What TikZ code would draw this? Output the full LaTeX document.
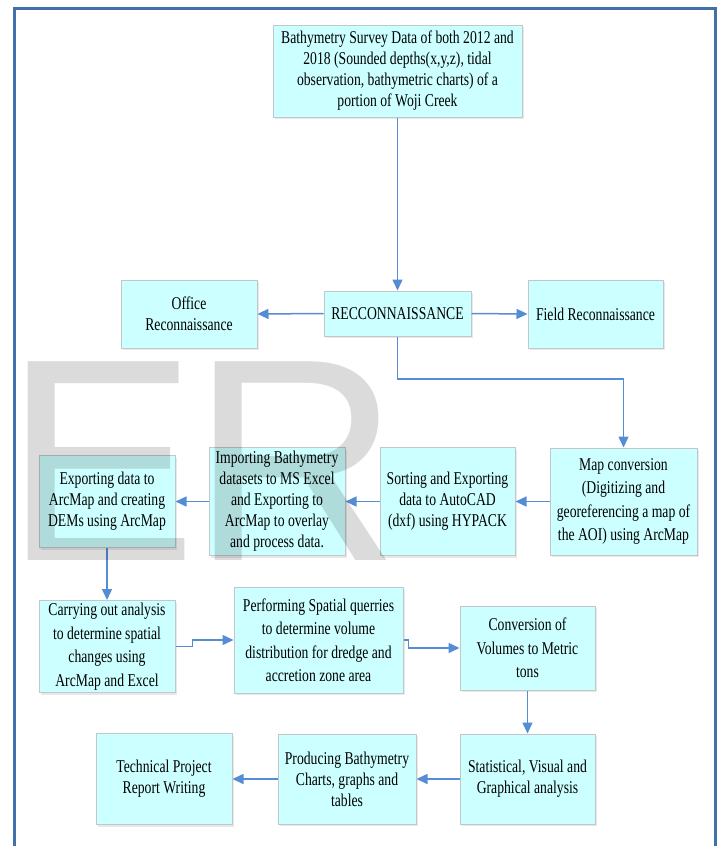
\documentclass[tikz,border=0pt]{standalone}
\usepackage{fontspec}
\setmainfont{Liberation Serif}[FakeStretch=0.76]
\newfontfamily\wmfont{Liberation Sans}
\usetikzlibrary{positioning,shadows,arrows.meta}
\definecolor{boxfill}{RGB}{204,255,255}
\definecolor{boxline}{RGB}{192,200,200}
\definecolor{linkblue}{RGB}{84,141,212}
\definecolor{frameblue}{RGB}{65,113,167}
\tikzset{
  box/.style={rectangle,draw=boxline,fill=boxfill,line width=1pt,align=center,inner sep=0pt,
    drop shadow={shadow xshift=1.5pt,shadow yshift=-2pt,opacity=0.15,fill=black!60},
    font=\fontsize{18}{21}\selectfont},
  roomy/.style={font=\fontsize{18}{23.5}\selectfont},
  link/.style={draw=linkblue,line width=1.5pt}
}

\begin{document}
\begin{tikzpicture}[x=1pt,y=-1pt,->,>={Triangle[length=11pt,width=10pt]}]
\useasboundingbox (0,0) rectangle (718,846);
\clip (0,0) rectangle (718,846);
\draw[-,frameblue,line width=2.7pt] (14.8,870) -- (14.8,8.7) -- (715.6,8.7) -- (715.6,870);

\node[box,minimum width=249pt,minimum height=92pt](q1) at (397.5,71)
  {Bathymetry Survey Data of both 2012 and\\2018 (Sounded depths(x,y,z), tidal\\observation, bathymetric charts) of a\\portion of Woji Creek};
\node[box,minimum width=147pt,minimum height=45pt](q2) at (397.5,313.5) {RECCONNAISSANCE};
\node[box,minimum width=136pt,minimum height=68pt](q3) at (189,314) {Office\\Reconnaissance};
\node[box,minimum width=135pt,minimum height=68pt](q4) at (595.5,314) {Field Reconnaissance};

\node[box,roomy,minimum width=147pt,minimum height=107pt](q5) at (623.5,501.5)
  {Map conversion\\(Digitizing and\\georeferencing a map of\\the AOI) using ArcMap};
\node[box,minimum width=135pt,minimum height=108pt](q6)[left=34pt of q5]
  {Sorting and Exporting\\data to AutoCAD\\(dxf) using HYPACK};
\node[box,minimum width=136pt,minimum height=108pt](q7)[left=34pt of q6]
  {Importing Bathymetry\\datasets to MS Excel\\and Exporting to\\ArcMap to overlay\\and process data.};
\node[box,minimum width=136pt,minimum height=92pt](q8)[left=33pt of q7]
  {Exporting data to\\ArcMap and creating\\DEMs using ArcMap};

\node[box,roomy,minimum width=136pt,minimum height=92pt](q9)[below=52pt of q8]
  {Carrying out analysis\\to determine spatial\\changes using\\ArcMap and Excel};
\node[box,roomy,minimum width=169pt,minimum height=106pt](q10) at (318.5,640)
  {Performing Spatial querries\\to determine volume\\distribution for dredge and\\accretion zone area};
\node[box,roomy,minimum width=135pt,minimum height=84pt](q11) at (527.5,648)
  {Conversion of\\Volumes to Metric\\tons};

\node[box,minimum width=135pt,minimum height=90pt](q12)[below=43pt of q11]
  {Statistical, Visual and\\Graphical analysis};
\node[box,minimum width=138pt,minimum height=90pt](q13)[left=43pt of q12]
  {Producing Bathymetry\\Charts, graphs and\\tables};
\node[box,minimum width=136pt,minimum height=91pt](q14)[left=45pt of q13]
  {Technical Project\\Report Writing};

\coordinate (k1) at (500,379);

\draw[link](q1)--(q2); \draw[link](q2.west)--(q3.east);
\draw[link](q2.east)--(q4.west);
\draw[link](q2.south)|-(k1)-|(q5.north);
\draw[link](q5)--(q6); \draw[link](q6)--(q7);
\draw[link](q7)--(q8); \draw[link](q8)--(q9);
\draw[link](q9.east)--++(17,0)|-(q10.west);
\draw[link](q10.east)--++(5,0)|-(q11.west);
\draw[link](q11)--(q12); \draw[link](q12)--(q13);
\draw[link](q13)--(q14);

\node[text opacity=0.14,font=\wmfont\fontsize{289}{289}\selectfont,anchor=base west,inner sep=0pt](wm) at (4,560) {E\kern-6pt R};

\end{tikzpicture}
\end{document}
